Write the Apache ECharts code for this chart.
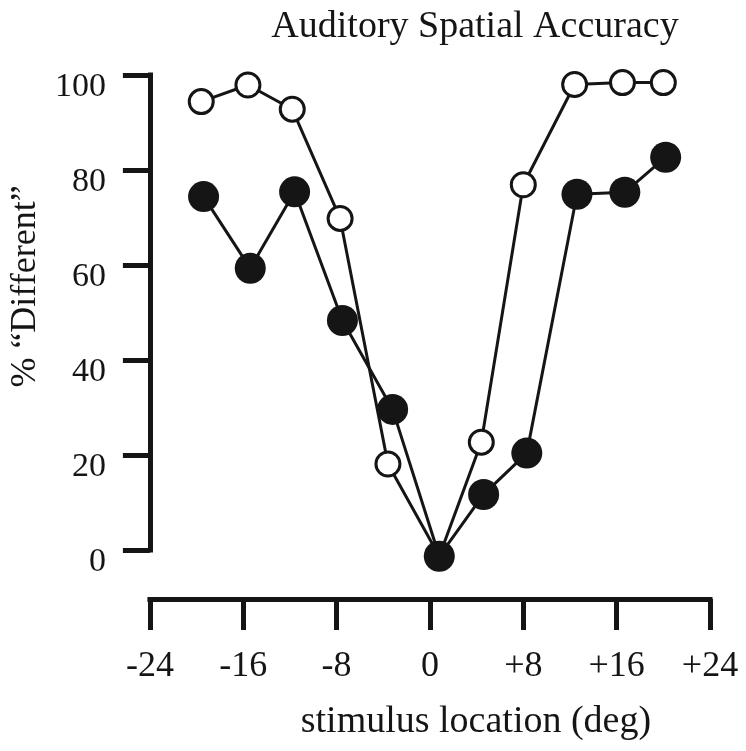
<!DOCTYPE html>
<html>
<head>
<meta charset="utf-8">
<style>
  html, body { margin: 0; padding: 0; background: #fff; }
  #chart { width: 746px; height: 751px; }
</style>
<script src="https://cdn.jsdelivr.net/npm/echarts@6/dist/echarts.min.js"></script>
</head>
<body>
<div id="chart"></div>
<script>
// Stimulus locations (deg) and percentage of "different" responses
const openX = [-19.6, -15.6, -11.8, -7.7, -3.6, 0.8, 4.4, 8.0, 12.4, 16.5, 20.0];
const openY = [94.4, 97.9, 92.8, 69.8, 18.1, -1.3, 22.7, 76.9, 98.0, 98.4, 98.4];
const filledX = [-19.4, -15.4, -11.6, -7.5, -3.2, 0.8, 4.6, 8.3, 12.6, 16.7, 20.2];
const filledY = [74.4, 59.3, 75.4, 48.3, 29.6, -1.3, 11.7, 20.4, 74.9, 75.3, 82.7];

const xTickValues = [-24, -16, -8, 0, 8, 16, 24];
const xTickLabels = ['-24', '-16', '-8', '0', '+8', '+16', '+24'];
const yTickLabels = ['0', '20', '40', '60', '80', '100'];

const titleText = 'Auditory Spatial Accuracy';
const xName = 'stimulus location (deg)';
const yName = '% \u201cDifferent\u201d';

const ink = '#151515';
const serif = '"Liberation Serif", "Times New Roman", serif';

const pairs = (xs, ys) => xs.map((x, i) => [x, ys[i]]);

const chart = echarts.init(document.getElementById('chart'), null, { renderer: 'canvas' });

chart.setOption({
  backgroundColor: '#ffffff',
  animation: false,
  title: {
    text: titleText,
    left: 470,
    top: 3,
    textAlign: 'center',
    textStyle: { fontFamily: serif, fontSize: 38, fontWeight: 'normal', color: ink }
  },
  grid: { left: 148, right: 36, top: 75, bottom: 201, containLabel: false },
  xAxis: {
    type: 'value',
    min: -24,
    max: 24,
    interval: 8,
    offset: 49,
    name: xName,
    nameLocation: 'middle',
    nameGap: 104,
    nameTextStyle: { fontFamily: serif, fontSize: 38, color: ink, padding: [0, 0, 0, 92] },
    axisLine: { show: true, onZero: false, lineStyle: { color: ink, width: 5, cap: 'square' } },
    axisTick: { show: true, inside: false, length: 31, lineStyle: { color: ink, width: 5 } },
    axisLabel: {
      margin: 50,
      fontFamily: serif,
      fontSize: 36,
      color: ink,
      formatter: v => {
        const i = xTickValues.indexOf(v);
        return i >= 0 ? xTickLabels[i] : '';
      }
    },
    splitLine: { show: false }
  },
  yAxis: {
    type: 'value',
    min: 0,
    max: 100,
    interval: 20,
    name: yName,
    nameLocation: 'middle',
    nameGap: 101,
    nameTextStyle: { fontFamily: serif, fontSize: 36, color: ink, padding: [0, 0, 0, 52] },
    axisLine: { show: true, onZero: false, lineStyle: { color: ink, width: 5, cap: 'square' } },
    axisTick: { show: true, inside: false, length: 27, lineStyle: { color: ink, width: 5 } },
    axisLabel: {
      margin: 44,
      fontFamily: serif,
      fontSize: 34,
      color: ink,
      verticalAlign: 'top',
      lineHeight: 24,
      formatter: v => yTickLabels[Math.round(v / 20)] ?? ''
    },
    splitLine: { show: false }
  },
  series: [
    {
      name: 'open',
      type: 'line',
      data: pairs(openX, openY),
      clip: false,
      symbol: 'circle',
      symbolSize: 24,
      lineStyle: { color: ink, width: 3 },
      itemStyle: { color: '#ffffff', borderColor: ink, borderWidth: 3 },
      z: 3
    },
    {
      name: 'filled',
      type: 'line',
      data: pairs(filledX, filledY),
      clip: false,
      symbol: 'circle',
      symbolSize: 31,
      lineStyle: { color: ink, width: 3 },
      itemStyle: { color: ink, borderColor: ink, borderWidth: 0 },
      z: 4
    }
  ]
});
</script>
</body>
</html>
